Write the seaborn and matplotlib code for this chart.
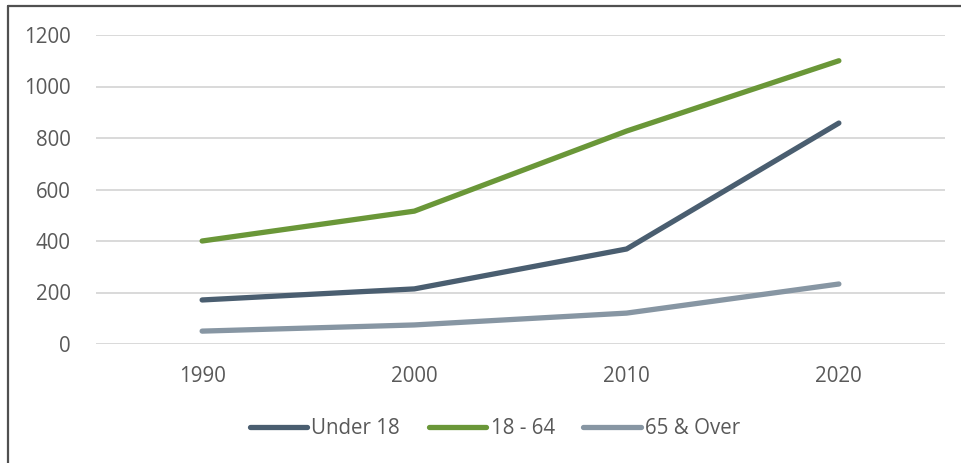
import matplotlib
matplotlib.use("Agg")
import matplotlib.pyplot as plt
from matplotlib.lines import Line2D
import seaborn as sns
import pandas as pd

years = ["1990", "2000", "2010", "2020"]
under_18 = [171, 214, 369, 858]
age_18_64 = [400, 516, 827, 1100]
over_65 = [50, 74, 120, 233]
series_names = ["Under 18", "18 - 64", "65 & Over"]
colors = ["#4a5e70", "#6a9738", "#8796a3"]
y_ticks = [0, 200, 400, 600, 800, 1000, 1200]

df = pd.DataFrame({
    "Year": years * 3,
    "Value": under_18 + age_18_64 + over_65,
    "Series": [series_names[0]] * 4 + [series_names[1]] * 4 + [series_names[2]] * 4,
})

sns.set_theme(style="white")
plt.rcParams["font.family"] = ["Open Sans", "DejaVu Sans"]

W, H = 962, 463
fig = plt.figure(figsize=(W / 100, H / 100), dpi=100)
ax = fig.add_axes([96 / W, 1 - 344 / H, (945 - 96) / W, (344 - 35) / H])

sns.lineplot(data=df, x="Year", y="Value", hue="Series", hue_order=series_names,
             palette=colors, linewidth=3.8, ax=ax, sort=False, legend=False,
             solid_capstyle="round", solid_joinstyle="round")

ax.set_xlim(-0.5, 3.5)
ax.set_ylim(0, 1200)
ax.set_yticks(y_ticks)
ax.set_yticklabels([str(v) for v in y_ticks])
ax.yaxis.grid(True, color="#d9d9d9", linewidth=1.4)
ax.set_axisbelow(True)
for s in ax.spines.values():
    s.set_visible(False)
ax.set_xlabel("")
ax.set_ylabel("")
ax.tick_params(axis="both", length=0, labelsize=14.8, labelcolor="#595959")
ax.tick_params(axis="y", pad=18)
ax.tick_params(axis="x", pad=16)

handles = [Line2D([0], [0], color=c, linewidth=3.8, solid_capstyle="round") for c in colors]
fig.legend(handles, series_names, loc="center", bbox_to_anchor=(495 / W, 1 - 429 / H),
           ncol=3, frameon=False, fontsize=14.8, labelcolor="#595959",
           handlelength=2.8, handletextpad=0.2, columnspacing=1.4)

fig.add_artist(Line2D([8 / W, 8 / W], [0, 1 - 6 / H], transform=fig.transFigure,
                      color="#505050", linewidth=1.6))
fig.add_artist(Line2D([8 / W, 1], [1 - 6 / H, 1 - 6 / H], transform=fig.transFigure,
                      color="#505050", linewidth=1.6))

fig.savefig("out.png", dpi=100)
